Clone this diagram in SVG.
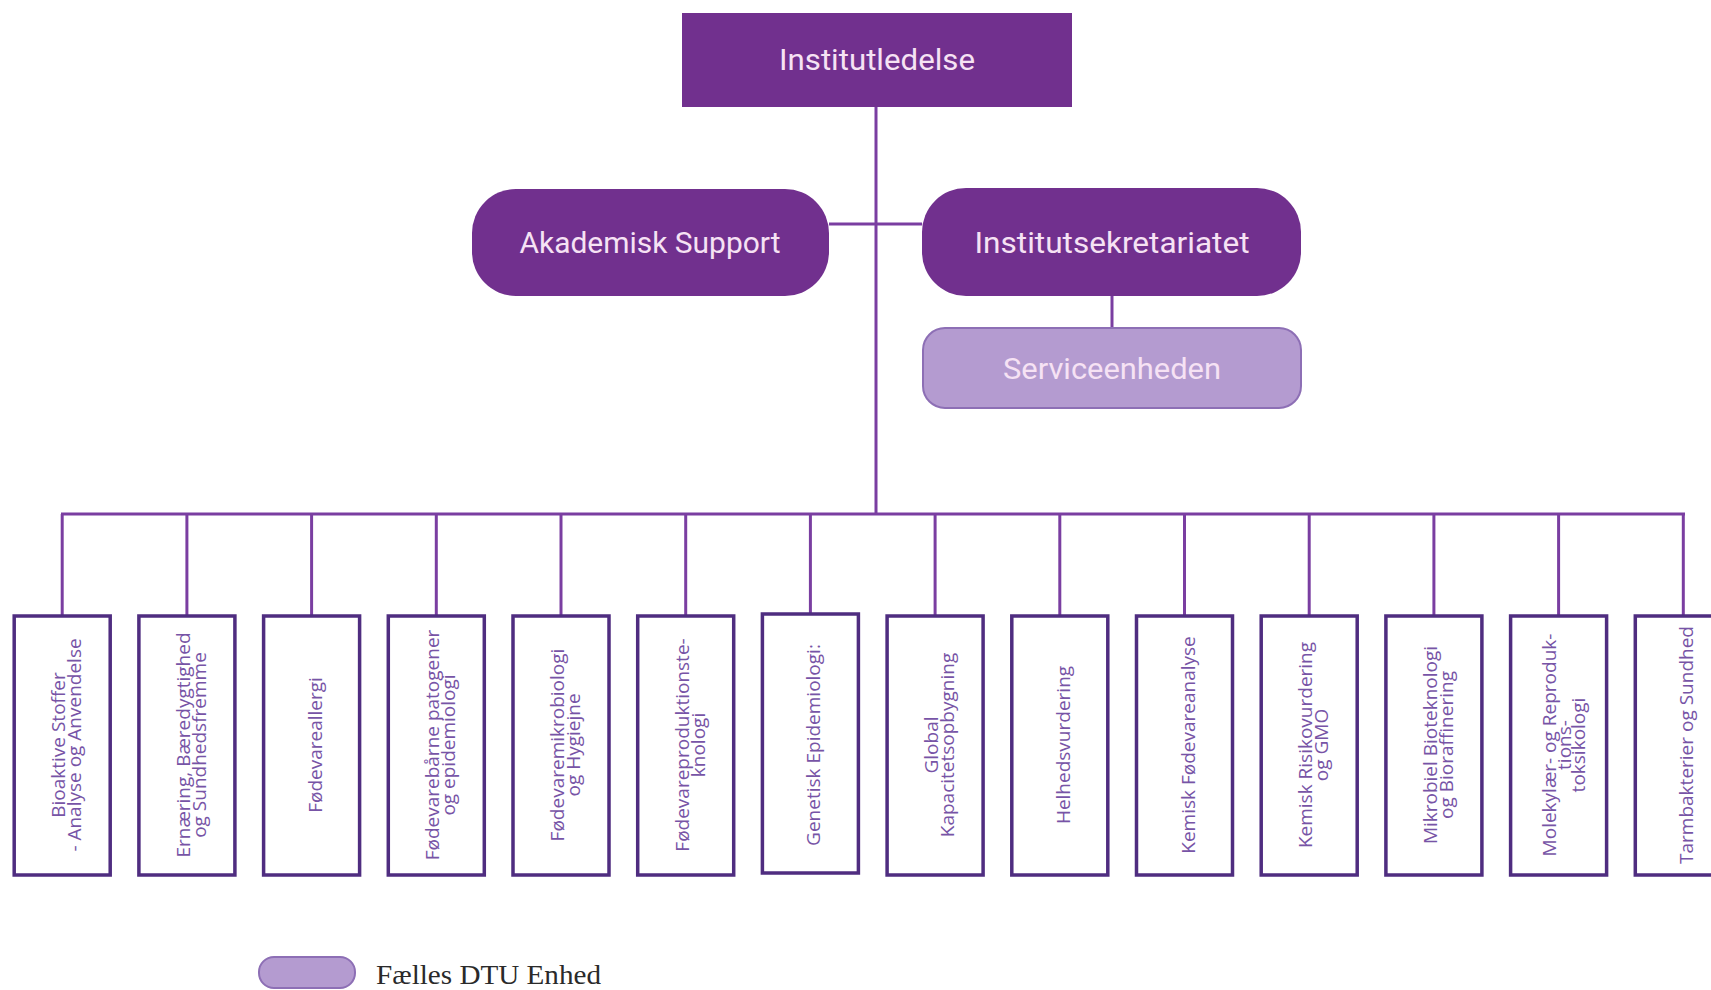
<svg xmlns="http://www.w3.org/2000/svg" width="1711" height="990" viewBox="0 0 1711 990">
<style>
.dark{fill:#71308e;}
.light{fill:#b49bd0;stroke:#8d6fb5;stroke-width:2;}
.big{font-family:Roboto,"Liberation Sans",sans-serif;font-size:30px;fill:#f6e2f4;text-anchor:middle;}
.conn{stroke:#7a3ea1;stroke-width:3;fill:none;}
.unit{fill:#ffffff;stroke:#4f2d80;stroke-width:3.5;}
.ut{font-family:"Open Sans","Noto Sans",sans-serif;font-size:19px;fill:#7754a6;text-anchor:middle;}
.leg{font-family:"Liberation Serif",serif;font-size:28px;fill:#2a2a2a;}
</style>
<rect width="1711" height="990" fill="#ffffff"/>
<g id="connectors">
<line class="conn" x1="876" y1="107" x2="876" y2="515"/>
<line class="conn" x1="829" y1="224" x2="922" y2="224"/>
<line class="conn" x1="1112" y1="296" x2="1112" y2="328"/>
<line class="conn" x1="61" y1="514" x2="1685" y2="514"/>
<line class="conn" x1="62.2" y1="514" x2="62.2" y2="616"/>
<line class="conn" x1="186.9" y1="514" x2="186.9" y2="616"/>
<line class="conn" x1="311.6" y1="514" x2="311.6" y2="616"/>
<line class="conn" x1="436.3" y1="514" x2="436.3" y2="616"/>
<line class="conn" x1="561" y1="514" x2="561" y2="616"/>
<line class="conn" x1="685.7" y1="514" x2="685.7" y2="616"/>
<line class="conn" x1="810.4" y1="514" x2="810.4" y2="616"/>
<line class="conn" x1="935.1" y1="514" x2="935.1" y2="616"/>
<line class="conn" x1="1059.8" y1="514" x2="1059.8" y2="616"/>
<line class="conn" x1="1184.5" y1="514" x2="1184.5" y2="616"/>
<line class="conn" x1="1309.2" y1="514" x2="1309.2" y2="616"/>
<line class="conn" x1="1433.9" y1="514" x2="1433.9" y2="616"/>
<line class="conn" x1="1558.6" y1="514" x2="1558.6" y2="616"/>
<line class="conn" x1="1683.3" y1="514" x2="1683.3" y2="616"/>
</g>
<g id="institutledelse">
<rect class="dark" x="682" y="13" width="390" height="94"/>
<text class="big" x="877" y="70" textLength="196" lengthAdjust="spacingAndGlyphs">Institutledelse</text>
</g>
<g id="akademisk-support">
<rect class="dark" x="472" y="189" width="357" height="107" rx="44"/>
<text class="big" x="650" y="253" textLength="261" lengthAdjust="spacingAndGlyphs">Akademisk Support</text>
</g>
<g id="institutsekretariatet">
<rect class="dark" x="922" y="188" width="379" height="108" rx="44"/>
<text class="big" x="1112" y="253" textLength="275" lengthAdjust="spacingAndGlyphs">Institutsekretariatet</text>
</g>
<g id="serviceenheden">
<rect class="light" x="923" y="328" width="378" height="80" rx="22"/>
<text class="big" x="1112" y="379" textLength="218" lengthAdjust="spacingAndGlyphs">Serviceenheden</text>
</g>
<g id="u1"><rect class="unit" x="14.2" y="616" width="96" height="259"/>
<text class="ut" transform="translate(66.2,745) rotate(-90)"><tspan x="0" y="-1">Bioaktive Stoffer</tspan><tspan x="0" y="15">- Analyse og Anvendelse</tspan></text></g>
<g id="u2"><rect class="unit" x="138.9" y="616" width="96" height="259"/>
<text class="ut" transform="translate(190.9,745) rotate(-90)"><tspan x="0" y="-1">Ernæring, Bæredygtighed</tspan><tspan x="0" y="15">og Sundhedsfremme</tspan></text></g>
<g id="u3"><rect class="unit" x="263.6" y="616" width="96" height="259"/>
<text class="ut" transform="translate(315.6,745) rotate(-90)"><tspan x="0" y="6">Fødevareallergi</tspan></text></g>
<g id="u4"><rect class="unit" x="388.3" y="616" width="96" height="259"/>
<text class="ut" transform="translate(440.3,745) rotate(-90)"><tspan x="0" y="-1">Fødevarebårne patogener</tspan><tspan x="0" y="15">og epidemiologi</tspan></text></g>
<g id="u5"><rect class="unit" x="513" y="616" width="96" height="259"/>
<text class="ut" transform="translate(565,745) rotate(-90)"><tspan x="0" y="-1">Fødevaremikrobiologi</tspan><tspan x="0" y="15">og Hygiejne</tspan></text></g>
<g id="u6"><rect class="unit" x="637.7" y="616" width="96" height="259"/>
<text class="ut" transform="translate(689.7,745) rotate(-90)"><tspan x="0" y="-1">Fødevareproduktionste-</tspan><tspan x="0" y="15">knologi</tspan></text></g>
<g id="u7"><rect class="unit" x="762.4" y="614" width="96" height="259"/>
<text class="ut" transform="translate(814.4,745) rotate(-90)"><tspan x="0" y="6">Genetisk Epidemiologi:</tspan></text></g>
<g id="u8"><rect class="unit" x="887.1" y="616" width="96" height="259"/>
<text class="ut" transform="translate(939.1,745) rotate(-90)"><tspan x="0" y="-1">Global</tspan><tspan x="0" y="15">Kapacitetsopbygning</tspan></text></g>
<g id="u9"><rect class="unit" x="1011.8" y="616" width="96" height="259"/>
<text class="ut" transform="translate(1063.8,745) rotate(-90)"><tspan x="0" y="6">Helhedsvurdering</tspan></text></g>
<g id="u10"><rect class="unit" x="1136.5" y="616" width="96" height="259"/>
<text class="ut" transform="translate(1188.5,745) rotate(-90)"><tspan x="0" y="6">Kemisk Fødevareanalyse</tspan></text></g>
<g id="u11"><rect class="unit" x="1261.2" y="616" width="96" height="259"/>
<text class="ut" transform="translate(1313.2,745) rotate(-90)"><tspan x="0" y="-1">Kemisk Risikovurdering</tspan><tspan x="0" y="15">og GMO</tspan></text></g>
<g id="u12"><rect class="unit" x="1385.9" y="616" width="96" height="259"/>
<text class="ut" transform="translate(1437.9,745) rotate(-90)"><tspan x="0" y="-1">Mikrobiel Bioteknologi</tspan><tspan x="0" y="15">og Bioraffinering</tspan></text></g>
<g id="u13"><rect class="unit" x="1510.6" y="616" width="96" height="259"/>
<text class="ut" transform="translate(1562.6,745) rotate(-90)"><tspan x="0" y="-7">Molekylær- og Reproduk-</tspan><tspan x="0" y="8">tions-</tspan><tspan x="0" y="22">toksikologi</tspan></text></g>
<g id="u14"><rect class="unit" x="1635.3" y="616" width="96" height="259"/>
<text class="ut" transform="translate(1687.3,745) rotate(-90)"><tspan x="0" y="6">Tarmbakterier og Sundhed</tspan></text></g>
<g id="legend">
<rect class="light" x="259" y="957" width="96" height="31" rx="15"/>
<text class="leg" x="376" y="984" textLength="225" lengthAdjust="spacingAndGlyphs">Fælles DTU Enhed</text>
</g>
</svg>
